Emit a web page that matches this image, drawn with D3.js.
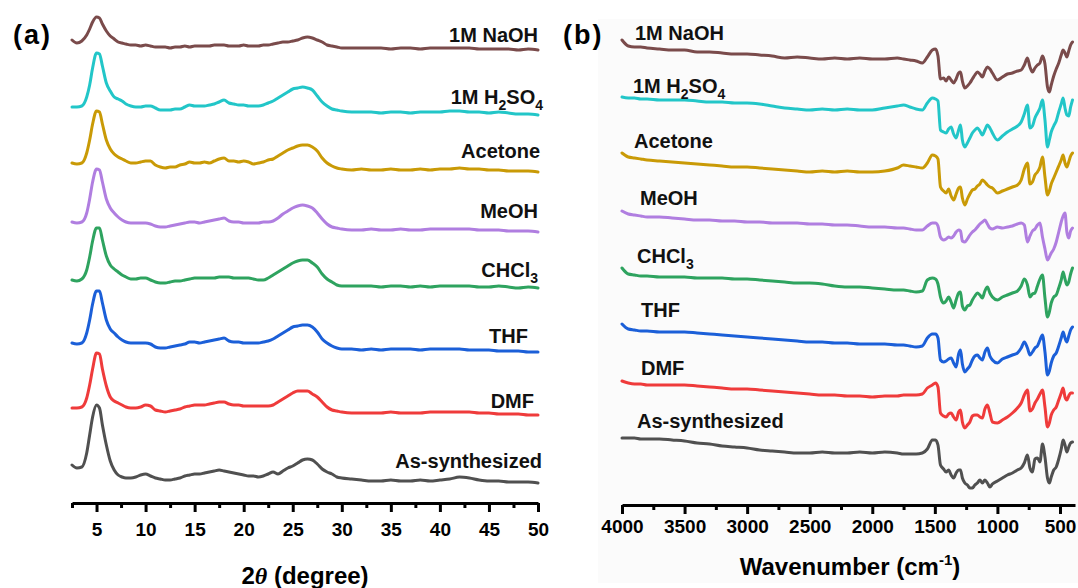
<!DOCTYPE html>
<html>
<head>
<meta charset="utf-8">
<script src="https://cdn.jsdelivr.net/npm/d3@7"></script>
<style>
  html, body { margin: 0; padding: 0; background: #ffffff; }
  svg { display: block; font-family: "Liberation Sans", Arial, Helvetica, sans-serif; }
  .axis path, .axis line { stroke: #000; stroke-width: 3; }
  .axis text { font-size: 19px; font-weight: bold; fill: #000; }
</style>
</head>
<body>
<svg id="chart" width="1078" height="588"></svg>
<script>
// ---------- shared sample metadata ----------
const samples = ["1M NaOH", "1M H2SO4", "Acetone", "MeOH", "CHCl3", "THF", "DMF", "As-synthesized"];
const sampleColors = ["#7a4b4b", "#22c6c8", "#c99a06", "#b07ee0", "#2ea35f", "#1b5fd8", "#ef3b3b", "#505050"];

// ---------- (a) PXRD patterns ----------
const twoThetaTicks = [5, 10, 15, 20, 25, 30, 35, 40, 45, 50];
const twoTheta = [
  2.5, 3, 3.5, 4, 4.3, 4.6, 5, 5.3, 5.6, 6,
  6.4, 6.8, 7.2, 7.6, 8, 8.5, 9, 9.5, 10, 10.5,
  11, 11.5, 12, 12.5, 13, 13.5, 14, 14.5, 15, 15.5,
  16, 16.5, 17, 17.5, 18, 18.5, 19, 19.5, 20, 20.5,
  21, 21.5, 22, 22.5, 23, 23.5, 24, 24.5, 25, 25.5,
  26, 26.5, 27, 27.5, 28, 28.5, 29, 29.5, 30, 31,
  32, 33, 34, 35, 36, 37, 38, 39, 40, 41,
  42, 43, 44, 45, 46, 47, 48, 49, 50
];
const xrdNaOH = [
  10, 7, 9, 15, 21, 28, 33, 32, 26, 19,
  14, 11, 8, 7, 6, 5, 5, 4, 5, 4,
  3, 3, 3, 2, 3, 3, 4, 3, 4, 4,
  4, 4, 5, 5, 5, 4, 4, 4, 5, 4,
  4, 4, 5, 5, 6, 7, 8, 8, 9, 10,
  12, 13, 12, 10, 8, 5, 4, 3, 2, 2,
  2, 2, 2, 1, 2, 2, 1, 2, 2, 2,
  2, 2, 1, 1, 1, 1, 0, 1, 0
];
const xrdH2SO4 = [
  8, 8, 9, 18, 30, 47, 62, 61, 49, 32,
  24, 18, 16, 14, 11, 9, 8, 8, 9, 9,
  7, 5, 5, 5, 6, 6, 8, 10, 9, 9,
  9, 10, 11, 13, 15, 12, 11, 10, 10, 9,
  9, 9, 10, 12, 14, 17, 20, 23, 26, 27,
  28, 27, 25, 19, 13, 9, 6, 5, 4, 3,
  3, 3, 2, 3, 3, 2, 3, 3, 3, 4,
  4, 3, 3, 2, 3, 2, 1, 1, 0
];
const xrdAcetone = [
  9, 8, 9, 19, 32, 48, 61, 60, 48, 32,
  23, 18, 15, 13, 11, 9, 9, 10, 11, 11,
  7, 5, 4, 5, 5, 7, 8, 10, 9, 9,
  10, 9, 11, 13, 14, 11, 11, 10, 11, 10,
  8, 9, 10, 12, 13, 16, 19, 22, 24, 26,
  27, 27, 25, 21, 14, 9, 6, 4, 3, 2,
  3, 2, 2, 3, 2, 2, 3, 2, 3, 3,
  4, 3, 3, 2, 2, 1, 1, 1, 0
];
const xrdMeOH = [
  10, 9, 10, 19, 33, 50, 63, 62, 50, 33,
  24, 19, 15, 12, 10, 9, 9, 9, 9, 8,
  6, 5, 5, 6, 7, 8, 9, 10, 10, 9,
  10, 11, 12, 13, 14, 11, 10, 10, 9, 9,
  9, 9, 10, 10, 11, 14, 18, 21, 24, 26,
  27, 26, 24, 19, 13, 8, 5, 4, 3, 2,
  2, 3, 2, 2, 3, 2, 2, 3, 3, 3,
  3, 3, 2, 2, 2, 1, 1, 1, 0
];
const xrdCHCl3 = [
  8, 7, 9, 18, 31, 47, 60, 60, 48, 32,
  23, 19, 16, 13, 11, 9, 9, 10, 10, 8,
  6, 5, 5, 6, 7, 7, 8, 9, 10, 10,
  10, 10, 10, 11, 11, 11, 10, 10, 10, 10,
  9, 8, 8, 10, 13, 16, 19, 22, 25, 27,
  28, 28, 25, 21, 14, 9, 6, 3, 2, 2,
  2, 2, 1, 2, 2, 1, 2, 1, 2, 2,
  2, 2, 1, 1, 2, 1, 0, 1, 0
];
const xrdTHF = [
  9, 8, 9, 19, 32, 48, 61, 61, 49, 32,
  23, 19, 15, 12, 10, 9, 9, 9, 9, 8,
  5, 4, 4, 5, 6, 7, 8, 10, 10, 9,
  10, 11, 12, 13, 14, 11, 10, 10, 9, 9,
  9, 9, 10, 11, 13, 16, 19, 22, 25, 26,
  27, 27, 25, 20, 13, 9, 6, 4, 3, 3,
  2, 3, 2, 3, 3, 3, 2, 3, 3, 3,
  3, 2, 2, 2, 1, 1, 1, 0, 0
];
const xrdDMF = [
  7, 7, 8, 17, 30, 46, 62, 61, 46, 29,
  18, 14, 12, 10, 8, 7, 7, 8, 10, 9,
  5, 4, 3, 4, 5, 6, 8, 9, 10, 10,
  10, 11, 12, 13, 13, 11, 10, 10, 9, 9,
  9, 9, 9, 9, 10, 13, 16, 19, 22, 24,
  24, 24, 21, 18, 13, 8, 5, 4, 3, 2,
  2, 2, 2, 3, 2, 2, 2, 3, 3, 3,
  3, 3, 2, 2, 1, 1, 1, 0, 0
];
const xrdAsSynth = [
  18, 15, 16, 30, 48, 66, 78, 75, 58, 38,
  22, 13, 8, 6, 5, 5, 6, 8, 9, 7,
  5, 4, 3, 3, 4, 5, 7, 8, 9, 9,
  10, 11, 12, 13, 12, 11, 10, 9, 8, 7,
  7, 6, 7, 9, 11, 9, 12, 15, 17, 20,
  23, 24, 23, 19, 14, 11, 9, 6, 5, 4,
  3, 2, 2, 3, 2, 2, 3, 2, 3, 4,
  6, 5, 3, 2, 2, 1, 1, 1, 0
];
// vertical stacking offsets (a.u.)
const xrdOffsets = [440, 375, 318, 258, 202, 138, 75, 7];

// ---------- (b) FT-IR spectra ----------
const wavenumberTicks = [4000, 3500, 3000, 2500, 2000, 1500, 1000, 500];
const wavenumber = [
  4000, 3950, 3900, 3850, 3800, 3700, 3600, 3500, 3400, 3300,
  3200, 3100, 3000, 2900, 2800, 2700, 2600, 2500, 2400, 2300,
  2200, 2100, 2000,
  1900, 1800, 1750, 1700, 1650, 1600, 1560, 1520,
  1495, 1475, 1455, 1430, 1410, 1390, 1370, 1350, 1330, 1310,
  1295, 1280, 1260, 1240, 1220, 1200, 1180, 1160, 1140, 1120,
  1100, 1080, 1060, 1040, 1000, 960, 920, 880, 840, 810,
  785, 760, 740, 720, 700, 680, 660, 640, 620, 600,
  585, 570, 550, 530, 510, 490, 475, 460, 445, 430,
  415, 400
];
const irNaOH = [
  19, 13, 12, 12, 11, 10, 9, 9, 7, 7, 6, 5, 5, 4, 3, 1, 2, 1, 0, 1, 0, 1, 0,
  0, 1, 0, -1, -2, -4, 2, 9,
  10, 3, -20, -19, -22, -18, -21, -24, -20, -14,
  -13, -22, -29, -27, -24, -20, -16, -13, -15, -18,
  -12, -8, -10, -14, -21, -18, -15, -14, -12, -11,
  -6, 1, -8, -13, -9, -6, -4, 3, -5, -28,
  -33, -26, -17, -10, -4, 4, 9, 6, 2, 8,
  14, 17
];
const irH2SO4 = [
  13, 12, 12, 11, 11, 10, 10, 10, 9, 8, 8, 7, 7, 6, 4, 2, 1, 0, 1, 0, 1, 0, 0,
  2, 4, 5, 3, 1, 0, 7, 12,
  11, 9, -20, -22, -23, -19, -17, -24, -28, -20,
  -15, -30, -37, -33, -28, -23, -20, -18, -21, -25,
  -20, -15, -18, -23, -30, -26, -22, -19, -16, -12,
  -4, 5, -18, -16, -8, -3, 2, 10, -10, -37,
  -30, -22, -16, -11, -2, 6, 12, 2, -5, -6,
  3, 10
];
const irAcetone = [
  19, 15, 14, 13, 12, 11, 10, 9, 8, 7, 6, 5, 5, 4, 3, 2, 1, 0, 1, 0, 1, 0, 0,
  1, 4, 7, 6, 5, 4, 9, 17,
  16, 13, -15, -19, -21, -17, -24, -28, -22, -16,
  -15, -26, -33, -27, -22, -18, -17, -14, -12, -8,
  -10, -13, -15, -16, -21, -19, -17, -15, -13, -8,
  3, 9, -12, -10, -3, 0, 5, 15, -5, -23,
  -19, -12, -6, 0, 6, 12, 17, 9, 5, 10,
  16, 19
];
const irMeOH = [
  16, 13, 12, 11, 10, 10, 9, 8, 7, 7, 6, 6, 5, 5, 4, 4, 4, 3, 3, 2, 2, 1, 0,
  0, -1, -1, -2, -3, -3, 1, 4,
  4, 1, -10, -13, -12, -10, -11, -9, -5, -3,
  -4, -14, -15, -12, -8, -5, -3, 0, 3, 5,
  7, 3, -1, -2, 0, -1, 0, 1, 3, 4,
  2, -15, -9, -4, -2, 2, 4, -10, -22, -33,
  -30, -26, -22, -15, -5, 5, 11, 14, -5, -11,
  -4, -1
];
const irCHCl3 = [
  20, 14, 13, 12, 12, 11, 11, 11, 10, 10, 10, 9, 9, 8, 7, 6, 5, 5, 4, 2, 1, 1, 0,
  -1, -2, -2, -3, -4, -3, 8, 10,
  9, 4, -9, -15, -13, -9, -14, -20, -12, -5,
  -4, -18, -22, -18, -17, -12, -8, -5, -7, -10,
  -3, 1, -5, -9, -12, -9, -7, -5, -3, 2,
  9, 3, -9, -6, -5, 2, 9, 13, -10, -29,
  -24, -15, -9, -7, 0, 8, 16, 9, 3, 6,
  14, 20
];
const irTHF = [
  20, 15, 14, 13, 13, 12, 12, 12, 11, 10, 9, 8, 7, 6, 5, 4, 3, 2, 2, 1, 1, 0, 0,
  0, -1, -1, -2, -3, -2, 6, 10,
  10, 6, -16, -18, -17, -15, -14, -19, -23, -10,
  -6, -20, -28, -25, -22, -16, -12, -11, -14, -16,
  -8, -4, -12, -16, -19, -15, -13, -11, -9, -4,
  2, -4, -11, -8, -4, -2, 4, 9, -8, -31,
  -27, -19, -12, -9, -2, 6, 12, 6, 2, 8,
  14, 17
];
const irDMF = [
  16, 14, 13, 13, 12, 12, 12, 12, 11, 10, 9, 8, 8, 7, 6, 5, 4, 3, 2, 2, 1, 1, 0,
  1, 1, 2, 2, 2, 3, 9, 12,
  14, 10, -16, -19, -20, -17, -16, -20, -23, -15,
  -13, -25, -31, -28, -25, -19, -18, -18, -20, -21,
  -12, -8, -16, -25, -26, -23, -20, -16, -11, -6,
  2, 7, -14, -12, -6, -2, 3, 7, -10, -30,
  -26, -18, -13, -10, -3, 4, 9, 0, -3, 1,
  4, 4
];
const irAsSynth = [
  15, 15, 15, 14, 14, 14, 13, 12, 10, 9, 7, 6, 5, 3, 2, 1, 0, 0, 1, 0, 0, 1, 0,
  1, 0, -1, -1, -1, 0, 4, 13,
  13, 8, -12, -16, -19, -17, -22, -25, -20, -17,
  -17, -25, -30, -32, -35, -35, -32, -30, -27, -30,
  -27, -30, -34, -31, -28, -25, -22, -20, -17, -15,
  -10, -2, -15, -19, -6, -5, -9, 9, -4, -25,
  -30, -24, -17, -14, -6, 4, 13, 8, 1, 6,
  10, 11
];
const irOffsets = [431, 380, 318, 263, 202, 146, 93, 37];

const xrdSeries = [xrdNaOH, xrdH2SO4, xrdAcetone, xrdMeOH, xrdCHCl3, xrdTHF, xrdDMF, xrdAsSynth];
const irSeries = [irNaOH, irH2SO4, irAcetone, irMeOH, irCHCl3, irTHF, irDMF, irAsSynth];

// ---------- layout ----------
const W = 1078, H = 588;
const svg = d3.select("#chart");
svg.append("rect").attr("width", W).attr("height", H).attr("fill", "#ffffff");
svg.append("rect").attr("x", 598).attr("y", 19).attr("width", W - 598).attr("height", 564)
  .attr("fill", "#fbfbfb");

const xA = d3.scaleLinear().domain([2.5, 50]).range([72, 538]);
const yA = d3.scaleLinear().domain([0, 480]).range([490, 10]);
const xB = d3.scaleLinear().domain([4000, 380]).range([622, 1075]);
const yB = d3.scaleLinear().domain([0, 480]).range([490, 10]);

// label placement for each trace (text layout only)
const labelA = { x: [538, 543, 540, 538, 538, 528, 534, 542], y: [42, 104, 158, 218, 277, 343, 408, 468] };
const labelB = { x: [635, 633, 634, 640, 637, 641, 641, 637], y: [40, 93, 148, 205, 263, 317, 375, 428] };

// write a sample name, rendering digits after element symbols as subscripts
function writeLabel(sel, name) {
  const parts = name === "1M H2SO4" ? [["1M H", 0], ["2", 1], ["SO", 0], ["4", 1]]
              : name === "CHCl3" ? [["CHCl", 0], ["3", 1]]
              : [[name, 0]];
  let shifted = false;
  parts.forEach(([t, sub]) => {
    const ts = sel.append("tspan").text(t);
    if (sub) { ts.attr("font-size", 14).attr("dy", shifted ? 0 : 6); shifted = true; }
    else if (shifted) { ts.attr("dy", -6); shifted = false; }
  });
}

// ---------- panel (a) ----------
const lineA = d3.line().x((d, i) => xA(twoTheta[i])).y(d => d).curve(d3.curveMonotoneX);
const gA = svg.append("g");
xrdSeries.forEach((vals, k) => {
  gA.append("path")
    .attr("d", lineA(vals.map(v => yA(v + xrdOffsets[k]))))
    .attr("fill", "none").attr("stroke", sampleColors[k])
    .attr("stroke-width", 3).attr("stroke-linejoin", "round").attr("stroke-linecap", "round");
  const t = gA.append("text").attr("x", labelA.x[k]).attr("y", labelA.y[k])
    .attr("text-anchor", "end").attr("font-size", 20).attr("font-weight", "bold").attr("fill", "#111");
  writeLabel(t, samples[k]);
});

const axisAY = 503;
svg.append("g").attr("class", "axis").attr("transform", `translate(0,${axisAY})`)
  .call(d3.axisBottom(xA).tickValues(d3.range(2.5, 50, 5)).tickSize(5).tickSizeOuter(0).tickFormat(""))
  .call(g => g.select(".domain").remove());
svg.append("g").attr("class", "axis").attr("transform", `translate(0,${axisAY})`)
  .call(d3.axisBottom(xA).tickValues(twoThetaTicks).tickSize(9).tickSizeOuter(0).tickPadding(11)
    .tickFormat(d3.format("d")));

const titleA = svg.append("text").attr("x", 305).attr("y", 584).attr("text-anchor", "middle")
  .attr("font-size", 24).attr("font-weight", "bold").attr("fill", "#000");
titleA.append("tspan").text("2");
titleA.append("tspan").attr("font-style", "italic").attr("font-family", "'Liberation Serif', 'Times New Roman', serif").text("θ");
titleA.append("tspan").text(" (degree)");

// ---------- panel (b) ----------
const lineB = d3.line().x((d, i) => xB(wavenumber[i])).y(d => d).curve(d3.curveMonotoneX);
const gB = svg.append("g");
irSeries.forEach((vals, k) => {
  gB.append("path")
    .attr("d", lineB(vals.map(v => yB(v + irOffsets[k]))))
    .attr("fill", "none").attr("stroke", sampleColors[k])
    .attr("stroke-width", 3).attr("stroke-linejoin", "round").attr("stroke-linecap", "round");
  const t = gB.append("text").attr("x", labelB.x[k]).attr("y", labelB.y[k])
    .attr("text-anchor", "start").attr("font-size", 20).attr("font-weight", "bold").attr("fill", "#111");
  writeLabel(t, samples[k]);
});

const axisBY = 505;
svg.append("g").attr("class", "axis").attr("transform", `translate(0,${axisBY})`)
  .call(d3.axisBottom(xB).tickValues(d3.range(3750, 700, -500)).tickSize(5).tickSizeOuter(0).tickFormat(""))
  .call(g => g.select(".domain").remove());
svg.append("g").attr("class", "axis").attr("transform", `translate(0,${axisBY})`)
  .call(d3.axisBottom(xB).tickValues(wavenumberTicks).tickSize(9).tickSizeOuter(0).tickPadding(6)
    .tickFormat(d3.format("d")));

const titleB = svg.append("text").attr("x", 850).attr("y", 575).attr("text-anchor", "middle")
  .attr("font-size", 24).attr("font-weight", "bold").attr("fill", "#000");
titleB.append("tspan").text("Wavenumber (cm");
titleB.append("tspan").attr("font-size", 15).attr("dy", -10).text("-1");
titleB.append("tspan").attr("dy", 10).text(")");

// ---------- panel tags ----------
[["(a)", 13, 44], ["(b)", 563, 44]].forEach(([t, x, y]) => {
  svg.append("text").attr("x", x).attr("y", y).attr("font-size", 27).attr("font-weight", "bold")
    .attr("letter-spacing", 2).attr("fill", "#000").text(t);
});
</script>
</body>
</html>
